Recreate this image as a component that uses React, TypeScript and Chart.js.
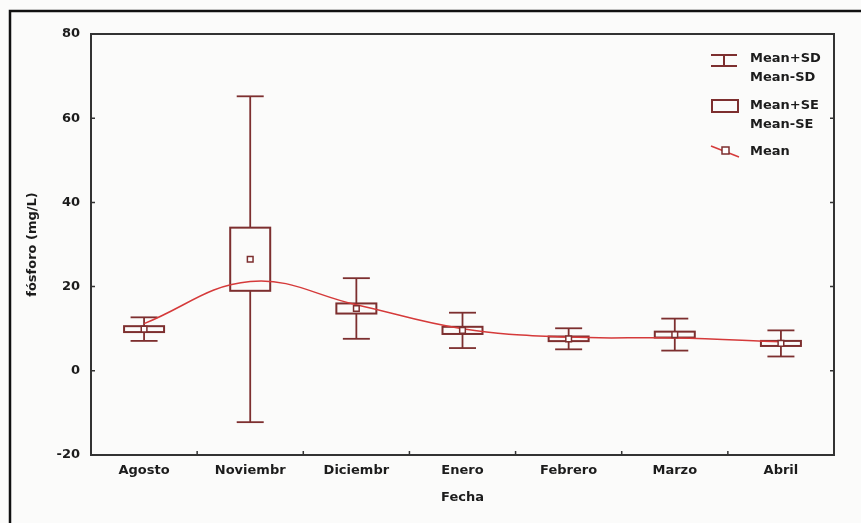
import React, { useEffect, useRef } from 'react';
import { Chart, registerables } from 'chart.js';

Chart.register(...registerables);

const categories = ['Agosto', 'Noviembr', 'Diciembr', 'Enero', 'Febrero', 'Marzo', 'Abril'];
const means = [9.9, 26.5, 14.8, 9.6, 7.6, 8.6, 6.5];
const sdValues = [2.8, 38.7, 7.2, 4.2, 2.5, 3.8, 3.1];
const seValues = [0.7, 7.5, 1.2, 0.85, 0.55, 0.7, 0.6];
const smoothMean = [11.2, 21.2, 15.7, 10.0, 8.0, 7.8, 6.9];
const yTicks = [-20, 0, 20, 40, 60, 80];
const legendSD = ['Mean+SD', 'Mean-SD'];
const legendSE = ['Mean+SE', 'Mean-SE'];
const legendMean = 'Mean';
const yTitle = 'fósforo (mg/L)';
const xTitle = 'Fecha';

const FONT = "'DejaVu Sans', sans-serif";
const DARK = '#7d2f2f';
const RED = '#d53a3a';
const TEXT = '#1c1c1c';

const boxPlugin = {
  id: 'boxWhisker',
  beforeDatasetsDraw(chart: any) {
    const { ctx, scales } = chart;
    const x = scales.x;
    const y = scales.y;
    ctx.save();
    ctx.strokeStyle = DARK;
    const seg = (x1: number, y1: number, x2: number, y2: number) => {
      ctx.beginPath();
      ctx.moveTo(x1, y1);
      ctx.lineTo(x2, y2);
      ctx.stroke();
    };
    means.forEach((m, i) => {
      const cx = x.getPixelForValue(i);
      const top = y.getPixelForValue(m + sdValues[i]);
      const bot = y.getPixelForValue(m - sdValues[i]);
      const bt = y.getPixelForValue(m + seValues[i]);
      const bb = y.getPixelForValue(m - seValues[i]);
      ctx.lineWidth = 1.8;
      seg(cx, top, cx, bt);
      seg(cx, bb, cx, bot);
      seg(cx - 13.5, top, cx + 13.5, top);
      seg(cx - 13.5, bot, cx + 13.5, bot);
      ctx.lineWidth = 2;
      ctx.strokeRect(cx - 20, bt, 40, bb - bt);
    });
    ctx.restore();
  },
  afterDraw(chart: any) {
    const { ctx, chartArea, scales } = chart;
    const x = scales.x;
    const y = scales.y;
    const { left, right, top, bottom } = chartArea;
    ctx.save();
    // plot frame
    ctx.strokeStyle = '#333';
    ctx.lineWidth = 2;
    ctx.strokeRect(left, top, right - left, bottom - top);
    ctx.lineWidth = 1.5;
    yTicks.forEach((v) => {
      const py = y.getPixelForValue(v);
      ctx.beginPath();
      ctx.moveTo(left, py);
      ctx.lineTo(left + 4, py);
      ctx.moveTo(right, py);
      ctx.lineTo(right - 4, py);
      ctx.stroke();
    });
    for (let i = 0; i < categories.length - 1; i++) {
      const px = (x.getPixelForValue(i) + x.getPixelForValue(i + 1)) / 2;
      ctx.beginPath();
      ctx.moveTo(px, bottom);
      ctx.lineTo(px, bottom - 4);
      ctx.stroke();
    }
    // outer border
    ctx.strokeStyle = '#111';
    ctx.lineWidth = 2.5;
    ctx.beginPath();
    ctx.moveTo(10, chart.height + 5);
    ctx.lineTo(10, 11);
    ctx.lineTo(chart.width + 5, 11);
    ctx.stroke();

    // legend
    ctx.strokeStyle = DARK;
    ctx.lineWidth = 2;
    ctx.beginPath();
    ctx.moveTo(711, 55);
    ctx.lineTo(737, 55);
    ctx.moveTo(724, 55);
    ctx.lineTo(724, 66);
    ctx.moveTo(711, 66);
    ctx.lineTo(737, 66);
    ctx.stroke();
    ctx.strokeRect(712, 100, 26, 12);
    ctx.strokeStyle = RED;
    ctx.lineWidth = 1.5;
    ctx.beginPath();
    ctx.moveTo(711, 146);
    ctx.lineTo(739, 157);
    ctx.stroke();
    ctx.fillStyle = '#fff';
    ctx.strokeStyle = DARK;
    ctx.lineWidth = 1.5;
    ctx.fillRect(722, 147, 7, 7);
    ctx.strokeRect(722, 147, 7, 7);

    ctx.fillStyle = TEXT;
    ctx.font = `bold 13px ${FONT}`;
    ctx.textAlign = 'left';
    ctx.textBaseline = 'middle';
    ctx.fillText(legendSD[0], 750, 59);
    ctx.fillText(legendSD[1], 750, 78);
    ctx.fillText(legendSE[0], 750, 106);
    ctx.fillText(legendSE[1], 750, 125);
    ctx.fillText(legendMean, 750, 152);
    ctx.restore();
  },
};

export default function App() {
  const canvasRef = useRef<HTMLCanvasElement | null>(null);

  useEffect(() => {
    const canvas = canvasRef.current;
    if (!canvas) return;
    const chart = new Chart(canvas, {
      type: 'line',
      data: {
        labels: categories,
        datasets: [
          {
            label: 'Mean',
            data: means,
            showLine: false,
            pointStyle: 'rect',
            pointRadius: 4,
            pointBackgroundColor: '#ffffff',
            pointBorderColor: DARK,
            pointBorderWidth: 1.5,
          },
          {
            label: 'Smoothed',
            data: smoothMean,
            borderColor: RED,
            borderWidth: 1.5,
            tension: 0.4,
            pointRadius: 0,
            fill: false,
          },
        ],
      },
      options: {
        animation: false,
        responsive: false,
        devicePixelRatio: 1,
        layout: { padding: { left: 0, right: 27, top: 34, bottom: 0 } },
        plugins: { legend: { display: false }, tooltip: { enabled: false } },
        scales: {
          x: {
            type: 'category',
            offset: true,
            grid: { display: false, drawTicks: false },
            border: { display: false },
            afterFit: (s: any) => {
              s.height = 68;
            },
            ticks: {
              padding: 8,
              color: TEXT,
              font: { family: FONT, size: 13, weight: 'bold' },
              maxRotation: 0,
              autoSkip: false,
            },
            title: {
              display: true,
              text: xTitle,
              color: TEXT,
              font: { family: FONT, size: 13, weight: 'bold' },
              padding: { top: 0, bottom: 18 },
            },
          },
          y: {
            type: 'linear',
            min: -20,
            max: 80,
            grid: { display: false, drawTicks: false },
            border: { display: false },
            afterFit: (s: any) => {
              s.width = 91;
            },
            afterBuildTicks: (s: any) => {
              s.ticks = yTicks.map((v) => ({ value: v }));
            },
            ticks: {
              padding: 11,
              color: TEXT,
              font: { family: FONT, size: 13, weight: 'bold' },
            },
            title: {
              display: true,
              text: yTitle,
              color: TEXT,
              font: { family: FONT, size: 13, weight: 'bold' },
              padding: { top: 25, bottom: 0 },
            },
          },
        },
      },
      plugins: [boxPlugin],
    });
    return () => chart.destroy();
  }, []);

  return (
    <div style={{ position: 'absolute', left: 0, top: 0, width: 861, height: 523, background: '#fbfbfa' }}>
      <canvas ref={canvasRef} width={861} height={523} style={{ display: 'block' }} />
    </div>
  );
}
